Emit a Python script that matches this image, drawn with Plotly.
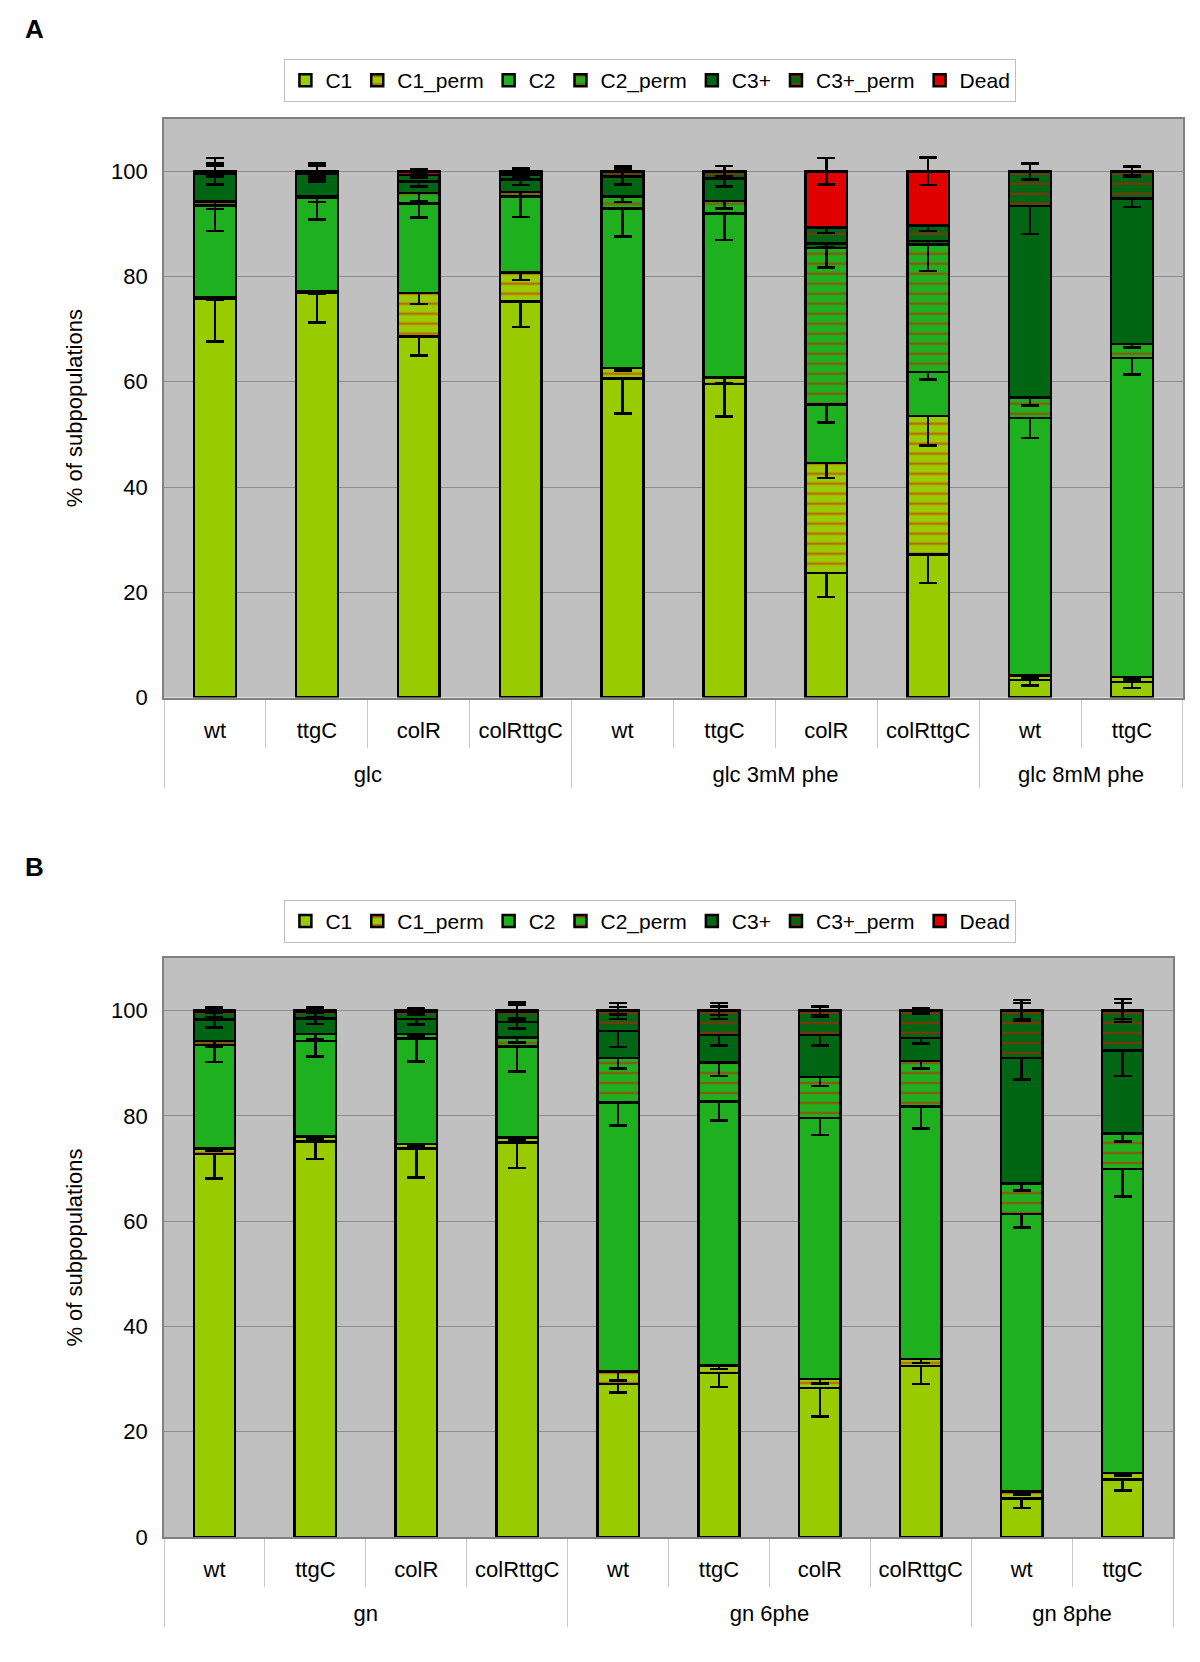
import plotly.graph_objects as go

# series (stack order, bottom to top)
series = ["C1", "C1_perm", "C2", "C2_perm", "C3+", "C3+_perm", "Dead"]
colors = ["#99CC00", "#99CC00", "#1FB01F", "#1FB01F", "#006614", "#006614", "#E00000"]
patterned = [False, True, False, True, False, True, False]

# panel A categories
a_groups = ["glc"] * 4 + ["glc 3mM phe"] * 4 + ["glc 8mM phe"] * 2
a_strains = ["wt", "ttgC", "colR", "colRttgC", "wt", "ttgC", "colR", "colRttgC", "wt", "ttgC"]

# panel A values (%)
a_c1 = [75.7, 76.9, 68.6, 75.3, 60.6, 59.6, 23.7, 27.2, 3.3, 3.0]
a_c1p = [0.4, 0.3, 8.3, 5.5, 2.0, 1.2, 20.9, 26.3, 0.9, 0.9]
a_c2 = [17.4, 17.7, 17.0, 14.4, 30.3, 31.2, 11.1, 8.4, 48.9, 60.6]
a_c2p = [0.8, 0.3, 2.0, 0.9, 2.3, 2.4, 29.7, 24.2, 3.9, 2.7]
a_c3 = [5.2, 4.4, 2.2, 2.3, 3.8, 4.2, 0.9, 0.7, 36.4, 27.6]
a_c3p = [0.5, 0.4, 1.2, 1.0, 1.0, 1.4, 3.0, 2.9, 6.5, 5.1]
a_dead = [0, 0, 0.7, 0.6, 0, 0, 10.7, 10.3, 0.1, 0.1]

# panel A error bars
a_c1_err = [8.0, 5.6, 3.6, 4.9, 6.6, 6.2, 4.6, 5.4, 1.0, 1.2]
a_c1p_err = [0.5, 0.5, 2.1, 1.5, 0.5, 1.0, 2.9, 5.6, 0.5, 0.5]
a_c2_err = [4.8, 4.1, 2.7, 3.9, 5.3, 5.1, 3.4, 1.5, 3.8, 3.1]
a_c2p_err = [1.5, 1.0, 1.5, 1.0, 1.0, 1.5, 3.7, 5.0, 1.5, 0.7]
a_c3_err = [2.0, 1.5, 1.0, 1.0, 1.5, 1.5, 0.7, 0.8, 5.3, 1.6]
a_c3p_err = [1.0, 1.0, 0.5, 0.5, 1.0, 1.0, 1.0, 1.0, 1.5, 1.0]
a_dead_err = [2.5, 1.5, 0.3, 0.5, 1.0, 1.0, 2.5, 2.6, 1.5, 0.8]

# panel B categories
b_groups = ["gn"] * 4 + ["gn 6phe"] * 4 + ["gn 8phe"] * 2
b_strains = ["wt", "ttgC", "colR", "colRttgC", "wt", "ttgC", "colR", "colRttgC", "wt", "ttgC"]

# panel B values (%)
b_c1 = [72.8, 75.1, 73.8, 74.9, 29.1, 31.2, 28.3, 32.5, 7.3, 10.9]
b_c1p = [1.0, 1.0, 0.9, 1.0, 2.3, 1.4, 1.7, 1.3, 1.3, 1.3]
b_c2 = [19.7, 18.1, 20.0, 17.3, 51.1, 50.1, 49.6, 48.0, 52.8, 57.7]
b_c2p = [0.7, 1.4, 0.9, 1.7, 8.5, 7.4, 7.8, 8.6, 5.8, 6.8]
b_c3 = [4.1, 2.9, 2.8, 2.9, 5.1, 5.3, 8.0, 4.4, 23.8, 15.7]
b_c3p = [1.4, 1.2, 1.3, 1.9, 3.8, 4.5, 4.5, 5.1, 8.9, 7.5]
b_dead = [0.3, 0.3, 0.3, 0.3, 0.1, 0.1, 0.1, 0.1, 0.1, 0.1]

# panel B error bars
b_c1_err = [4.7, 3.3, 5.5, 4.8, 1.6, 2.7, 5.4, 3.4, 1.8, 2.1]
b_c1p_err = [0.5, 0.5, 0.5, 0.5, 1.7, 0.7, 0.8, 0.7, 0.5, 0.5]
b_c2_err = [3.3, 2.9, 4.4, 4.8, 4.3, 3.6, 3.2, 4.2, 2.6, 5.2]
b_c2p_err = [1.0, 1.0, 0.5, 1.0, 2.0, 2.5, 1.7, 1.4, 1.4, 1.6]
b_c3_err = [1.5, 1.0, 1.0, 1.2, 3.0, 2.0, 2.0, 1.0, 4.1, 4.8]
b_c3p_err = [1.0, 1.0, 0.5, 1.5, 1.5, 1.5, 1.0, 0.5, 1.5, 1.5]
b_dead_err = [0.5, 0.5, 0.5, 1.5, 0.7, 0.8, 0.8, 0.5, 2.0, 2.2]

a_vals = [a_c1, a_c1p, a_c2, a_c2p, a_c3, a_c3p, a_dead]
a_errs = [a_c1_err, a_c1p_err, a_c2_err, a_c2p_err, a_c3_err, a_c3p_err, a_dead_err]
b_vals = [b_c1, b_c1p, b_c2, b_c2p, b_c3, b_c3p, b_dead]
b_errs = [b_c1_err, b_c1p_err, b_c2_err, b_c2p_err, b_c3_err, b_c3p_err, b_dead_err]

FONT = "Liberation Sans, Arial, sans-serif"

fig = go.Figure()


def add_panel(groups, strains, vals, errs, xa, ya, leg):
    # leading line break pushes the group row further below the strain row
    grp = ["<br>" + g for g in groups]
    for name, col, pat, v, e in zip(series, colors, patterned, vals, errs):
        marker = dict(color=col, line=dict(color="black", width=2.5))
        if pat:
            marker["pattern"] = dict(shape="-", fgcolor="#E01000", bgcolor=col,
                                     size=10, solidity=0.25)
        fig.add_trace(go.Bar(
            x=[grp, strains], y=v, name=name, marker=marker,
            error_y=dict(type="data", array=e, visible=True, color="black",
                         thickness=2.5, width=9),
            xaxis=xa, yaxis=ya, legend=leg,
        ))


add_panel(a_groups, a_strains, a_vals, a_errs, "x", "y", "legend")
add_panel(b_groups, b_strains, b_vals, b_errs, "x2", "y2", "legend2")

xcommon = dict(type="multicategory", showline=True, linecolor="#808080", linewidth=2,
               mirror=True, ticks="outside", ticklen=48, tickcolor="#C8C8C8",
               tickfont=dict(size=22, color="black", family=FONT),
               ticklabelstandoff=12,
               showdividers=True, dividercolor="#C8C8C8", dividerwidth=1)
ycommon = dict(range=[0, 110], dtick=20, showgrid=True, gridcolor="#8C8C8C", gridwidth=1,
               showline=True, linecolor="#808080", linewidth=2, mirror=True,
               ticks="", tickfont=dict(size=22, color="black", family=FONT),
               ticklabelstandoff=10, zeroline=False,
               title=dict(text="% of subpopulations", font=dict(size=22, family=FONT), standoff=22))

legcommon = dict(orientation="h", xanchor="center", yanchor="top", x=0.542,
                 bgcolor="white", bordercolor="#BFBFBF", borderwidth=1,
                 font=dict(size=21, family=FONT, color="black"),
                 itemwidth=30, traceorder="normal", tracegroupgap=0)

fig.update_layout(
    width=1200, height=1662,
    barmode="stack", bargap=0.59,
    paper_bgcolor="white", plot_bgcolor="#C0C0C0",
    margin=dict(l=0, r=0, t=0, b=0, autoexpand=False),
    font=dict(family=FONT, color="black"),
    xaxis=dict(domain=[0.1367, 0.9858], anchor="y", **xcommon),
    yaxis=dict(domain=[0.5803, 0.9286], anchor="x", **ycommon),
    xaxis2=dict(domain=[0.1367, 0.9775], anchor="y2", **xcommon),
    yaxis2=dict(domain=[0.0752, 0.4236], anchor="x2", **ycommon),
    legend=dict(y=0.9645, **legcommon),
    legend2=dict(y=0.4585, **legcommon),
    annotations=[
        dict(text="<b>A</b>", x=34 / 1200, y=1 - 29 / 1662, xref="paper", yref="paper",
             xanchor="center", yanchor="middle", showarrow=False,
             font=dict(size=26, family=FONT)),
        dict(text="<b>B</b>", x=34 / 1200, y=1 - 867 / 1662, xref="paper", yref="paper",
             xanchor="center", yanchor="middle", showarrow=False,
             font=dict(size=26, family=FONT)),
    ],
)

fig.write_html("out.html", config={"displayModeBar": False},
               post_script="document.body.style.margin='0';")
